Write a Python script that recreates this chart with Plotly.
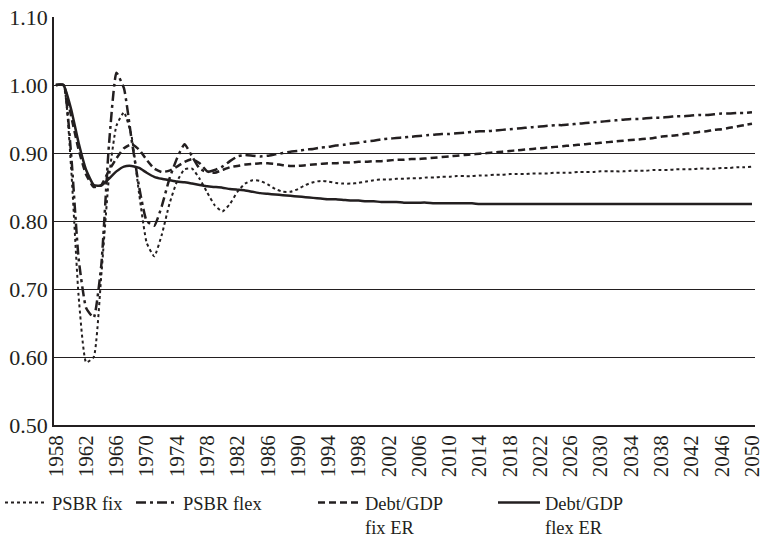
import plotly.graph_objects as go

years = list(range(1958, 2051))

psbr_fix = [
    1.000, 1.000, 0.880, 0.690, 0.592, 0.600, 0.720, 0.862, 0.940, 0.960,  # 1958-67
    0.925, 0.840, 0.768, 0.748, 0.780, 0.825, 0.858, 0.876, 0.877, 0.862,  # 1968-77
    0.842, 0.823, 0.814, 0.825, 0.843, 0.855, 0.860, 0.859, 0.854, 0.847,  # 1978-87
    0.843, 0.843, 0.847, 0.853, 0.857, 0.859, 0.858, 0.856, 0.855, 0.855,  # 1988-97
    0.856, 0.858, 0.860, 0.861, 0.861, 0.862, 0.862, 0.863, 0.863, 0.864,  # 1998-2007
    0.864, 0.865, 0.865, 0.866, 0.866, 0.866, 0.867, 0.867, 0.868, 0.868,  # 2008-17
    0.869, 0.869, 0.869, 0.870, 0.870, 0.870, 0.871, 0.871, 0.871, 0.872,  # 2018-27
    0.872, 0.872, 0.873, 0.873, 0.873, 0.873, 0.874, 0.874, 0.874, 0.875,  # 2028-37
    0.875, 0.875, 0.876, 0.876, 0.876, 0.877, 0.877, 0.877, 0.878, 0.878,  # 2038-47
    0.879, 0.879, 0.880,                                                   # 2048-50
]

psbr_flex = [
    1.000, 1.000, 0.900, 0.745, 0.672, 0.658, 0.735, 0.910, 1.018, 0.995,
    0.920, 0.850, 0.800, 0.793, 0.822, 0.862, 0.892, 0.913, 0.895, 0.877,
    0.872, 0.875, 0.880, 0.888, 0.895, 0.897, 0.896, 0.895, 0.896, 0.898,
    0.900, 0.902, 0.903, 0.905, 0.906, 0.908, 0.909, 0.911, 0.912, 0.914,
    0.915, 0.917, 0.918, 0.920, 0.921, 0.922, 0.923, 0.924, 0.925, 0.926,
    0.927, 0.928, 0.928, 0.929, 0.930, 0.931, 0.932, 0.932, 0.933, 0.934,
    0.935, 0.936, 0.937, 0.938, 0.939, 0.940, 0.941, 0.941, 0.942, 0.943,
    0.944, 0.945, 0.946, 0.947, 0.948, 0.949, 0.950, 0.950, 0.951, 0.952,
    0.952, 0.953, 0.954, 0.954, 0.955, 0.956, 0.956, 0.957, 0.958, 0.958,
    0.959, 0.959, 0.960,
]

debt_fix = [
    1.000, 1.000, 0.955, 0.905, 0.868, 0.850, 0.853, 0.874, 0.892, 0.907,
    0.913, 0.905, 0.890, 0.877, 0.872, 0.874, 0.880, 0.887, 0.891, 0.885,
    0.873, 0.871, 0.875, 0.879, 0.881, 0.883, 0.884, 0.885, 0.885, 0.884,
    0.882, 0.881, 0.881, 0.882, 0.883, 0.884, 0.885, 0.885, 0.886, 0.886,
    0.887, 0.887, 0.888, 0.888, 0.889, 0.890, 0.890, 0.891, 0.891, 0.892,
    0.893, 0.894, 0.895, 0.896, 0.897, 0.898, 0.899, 0.900, 0.901, 0.902,
    0.903, 0.904, 0.905, 0.906, 0.907, 0.908, 0.909, 0.910, 0.911, 0.912,
    0.913, 0.914, 0.915, 0.916, 0.917, 0.918, 0.919, 0.920, 0.921, 0.922,
    0.924, 0.925, 0.926, 0.928, 0.929, 0.931, 0.932, 0.934, 0.935, 0.937,
    0.939, 0.941, 0.943,
]

debt_flex = [
    1.000, 1.000, 0.965, 0.915, 0.875, 0.853, 0.852, 0.862, 0.873, 0.880,
    0.881, 0.878, 0.871, 0.865, 0.862, 0.860, 0.858, 0.857, 0.855, 0.853,
    0.851, 0.850, 0.849, 0.847, 0.846, 0.845, 0.843, 0.841, 0.840, 0.839,
    0.838, 0.837, 0.836, 0.835, 0.834, 0.833, 0.832, 0.832, 0.831, 0.830,
    0.830, 0.829, 0.829, 0.828, 0.828, 0.828, 0.827, 0.827, 0.827, 0.827,
    0.826, 0.826, 0.826, 0.826, 0.826, 0.826, 0.825, 0.825, 0.825, 0.825,
    0.825, 0.825, 0.825, 0.825, 0.825, 0.825, 0.825, 0.825, 0.825, 0.825,
    0.825, 0.825, 0.825, 0.825, 0.825, 0.825, 0.825, 0.825, 0.825, 0.825,
    0.825, 0.825, 0.825, 0.825, 0.825, 0.825, 0.825, 0.825, 0.825, 0.825,
    0.825, 0.825, 0.825,
]

series_names = ["PSBR fix", "PSBR flex", "Debt/GDP<br>fix ER", "Debt/GDP<br>flex ER"]
x_tick_years = list(range(1958, 2051, 4))
y_ticks = [0.5, 0.6, 0.7, 0.8, 0.9, 1.0, 1.1]

for s in (psbr_fix, psbr_flex, debt_fix, debt_flex):
    assert len(s) == len(years), len(s)

INK = "#231f20"
FONT = "Liberation Serif"

fig = go.Figure()
styles = [
    dict(dash="dot", width=2.0),
    dict(dash="10px,4px,3px,4px", width=2.5),
    dict(dash="7px,4px", width=2.5),
    dict(dash="solid", width=2.5),
]
legend_ids = ["legend", "legend2", "legend3", "legend4"]
for name, vals, st, lg in zip(series_names, [psbr_fix, psbr_flex, debt_fix, debt_flex], styles, legend_ids):
    fig.add_trace(go.Scatter(
        x=years, y=vals, mode="lines", name=name, legend=lg,
        line=dict(color=INK, width=st["width"], dash=st["dash"], shape="spline", smoothing=0.45),
    ))

leg_common = dict(
    orientation="h", xref="container", yref="container", xanchor="left", yanchor="top",
    font=dict(family=FONT, size=18.5, color=INK), bgcolor="rgba(0,0,0,0)",
    valign="top", itemwidth=42, tracegroupgap=0,
)
leg_x = [0 / 765, 131 / 765, 313 / 765, 493 / 765]
leg_y = 1 - 484 / 543
layout_legends = {}
for lg, lx in zip(legend_ids, leg_x):
    layout_legends[lg] = dict(leg_common, x=lx, y=leg_y)

fig.update_layout(
    width=765, height=543,
    margin=dict(l=54, r=10, t=17, b=118, autoexpand=False),
    paper_bgcolor="white", plot_bgcolor="white",
    font=dict(family=FONT, size=19, color=INK),
    showlegend=True,
    xaxis=dict(
        range=[1957.75, 2050.4], tickmode="array", tickvals=x_tick_years,
        ticktext=[str(y) for y in x_tick_years], tickangle=-90, automargin=False,
        showgrid=False, zeroline=False, showline=True, linecolor=INK, linewidth=1.5,
        ticks="", tickfont=dict(family=FONT, size=21, color=INK),
    ),
    yaxis=dict(
        range=[0.5, 1.1], tickmode="array", tickvals=y_ticks, automargin=False,
        ticktext=[f"{v:.2f}" for v in y_ticks],
        showgrid=True, gridcolor=INK, gridwidth=1.3, zeroline=False,
        showline=True, linecolor=INK, linewidth=1.5, ticks="",
        tickfont=dict(family=FONT, size=22, color=INK),
    ),
    **layout_legends,
)

fig.write_html(
    "out.html",
    config={"displayModeBar": False},
    post_script="document.body.style.margin='0';document.body.style.overflow='hidden';",
)
